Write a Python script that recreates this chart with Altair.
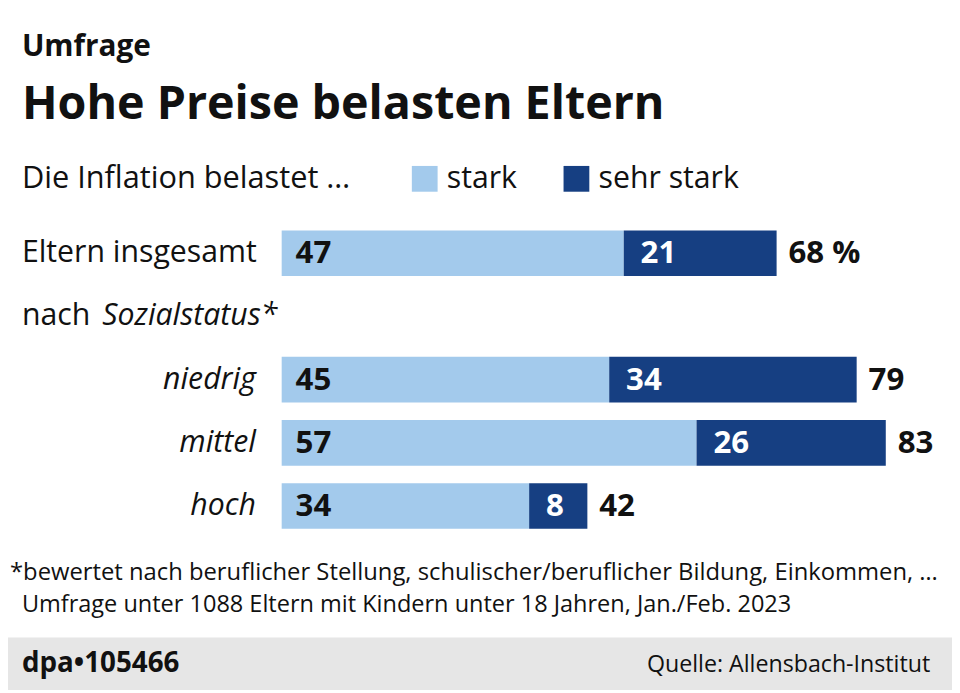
import altair as alt
import pandas as pd

FONT = "Open Sans, Noto Sans, sans-serif"

# ---- data ----
groups = ["Eltern insgesamt", "niedrig", "mittel", "hoch"]
stark = [47, 45, 57, 34]
sehr_stark = [21, 34, 26, 8]
total_labels = ["68 %", "79", "83", "42"]
row_order = ["Eltern insgesamt", "nach Sozialstatus*", "niedrig", "mittel", "hoch"]
categories = ["stark", "sehr stark"]
colors = ["#A3CAEC", "#163F82"]

title_kicker = "Umfrage"
title_main = "Hohe Preise belasten Eltern"
legend_title = "Die Inflation belastet …"
footnote1 = "*bewertet nach beruflicher Stellung, schulischer/beruflicher Bildung, Einkommen, …"
footnote2 = "Umfrage unter 1088 Eltern mit Kindern unter 18 Jahren, Jan./Feb. 2023"
credit = "dpa•105466"
source = "Quelle: Allensbach-Institut"

# ---- tables built from the lists ----
bars = []
for g, s, ss in zip(groups, stark, sehr_stark):
    bars.append({"row": g, "kat": "stark", "start": 0, "end": s})
    bars.append({"row": g, "kat": "sehr stark", "start": s, "end": s + ss})
df_bars = pd.DataFrame(bars)

df_rows = pd.DataFrame({
    "row": groups,
    "stark": stark,
    "sehr": sehr_stark,
    "total": [a + b for a, b in zip(stark, sehr_stark)],
    "total_label": total_labels,
})
df_one = pd.DataFrame({"a": [0]})

W, H = 952, 685

yscale = alt.Scale(domain=row_order, range=[212.6, 531.2], paddingInner=0, paddingOuter=0)
xscale = alt.Scale(domain=[0, 100], range=[276, 1010], nice=False, zero=False)
Y = alt.Y("row:N", scale=yscale, axis=None)

footer = alt.Chart(df_one).mark_rect(color="#E6E6E6").encode(
    x=alt.value(0), x2=alt.value(W), y=alt.value(632), y2=alt.value(H)
)

LAB = 30.5
NUM = 31.5

bar_layer = alt.Chart(df_bars).mark_bar(size=46).encode(
    x=alt.X("start:Q", scale=xscale, axis=None),
    x2="end:Q",
    y=Y,
    color=alt.Color(
        "kat:N",
        scale=alt.Scale(domain=categories, range=colors),
        legend=alt.Legend(
            orient="none", legendX=405, legendY=154, direction="horizontal",
            title=None, symbolType="square", symbolSize=676, symbolStrokeWidth=0,
            labelFont=FONT, labelFontSize=LAB, labelColor="#111111",
            labelOffset=7, columnPadding=44, symbolOpacity=1,
        ),
    ),
)

num_style = dict(font=FONT, fontSize=NUM, fontWeight="bold", baseline="middle", align="left")

stark_txt = alt.Chart(df_rows).mark_text(dx=14, dy=1, color="#111111", **num_style).encode(
    x=alt.X(datum=0, scale=xscale), y=Y, text="stark:N"
)
sehr_txt = alt.Chart(df_rows).mark_text(dx=17, dy=1, color="white", **num_style).encode(
    x=alt.X("stark:Q", scale=xscale), y=Y, text="sehr:N"
)
total_txt = alt.Chart(df_rows).mark_text(dx=12, dy=1, color="#111111", **num_style).encode(
    x=alt.X("total:Q", scale=xscale), y=Y, text="total_label:N"
)

lab_style = dict(font=FONT, fontSize=LAB, baseline="middle", color="#111111")
lab_main = alt.Chart(pd.DataFrame({"row": [groups[0]]})).mark_text(align="left", **lab_style).encode(
    x=alt.value(14), y=Y, text="row:N"
)
lab_sub = alt.Chart(pd.DataFrame({"row": groups[1:]})).mark_text(
    align="right", fontStyle="italic", **lab_style
).encode(x=alt.value(250), y=Y, text="row:N")

sub_a = alt.Chart(pd.DataFrame({"row": [row_order[1]], "t": ["nach"]})).mark_text(
    align="left", **lab_style
).encode(x=alt.value(14), y=Y, text="t:N")
sub_b = alt.Chart(pd.DataFrame({"row": [row_order[1]], "t": ["Sozialstatus*"]})).mark_text(
    align="left", fontStyle="italic", **lab_style
).encode(x=alt.value(95), y=Y, text="t:N")


def txt(s, x, y, size, weight="normal", align="left", color="#111111"):
    return alt.Chart(df_one).mark_text(
        text=s, font=FONT, fontSize=size, fontWeight=weight, align=align,
        baseline="alphabetic", color=color,
    ).encode(x=alt.value(x), y=alt.value(y))


texts = [
    txt(title_kicker, 14, 46, 30, "bold"),
    txt(title_main, 14, 109, 47, "bold"),
    txt(legend_title, 14, 179, 31),
    txt(footnote1, 2, 574, 24),
    txt(footnote2, 14, 606, 23.7),
    txt(credit, 14, 667, 28, "bold"),
    txt(source, 930, 667, 23.4, align="right"),
]

chart = alt.layer(
    footer, bar_layer, stark_txt, sehr_txt, total_txt, lab_main, lab_sub, sub_a, sub_b, *texts
).properties(
    width=W, height=H, padding=0, autosize=alt.AutoSizeParams(type="none"),
).configure(background="white").configure_view(stroke=None)

chart.save("out.html", embed_options={"renderer": "svg", "actions": False})
